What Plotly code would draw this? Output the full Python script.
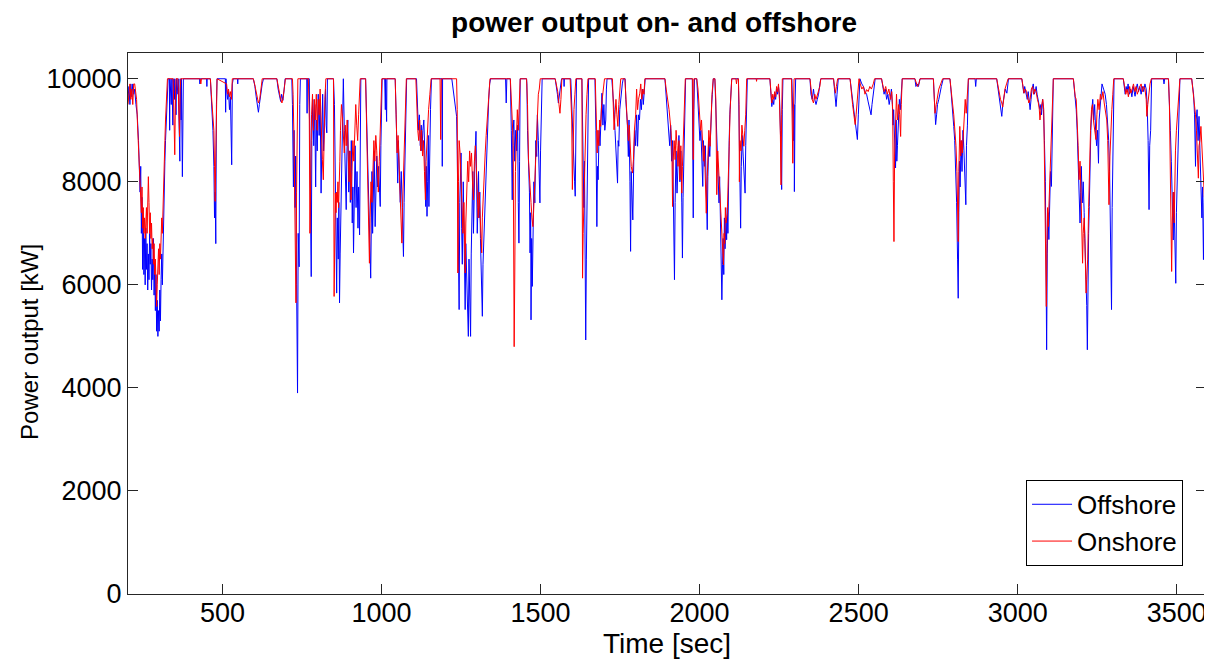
import plotly.graph_objects as go

# Time [sec] / power [kW] samples
offshore_samples = [
(203,9600),(206,9850),(209,9500),(212,9900),(215,9650),(218,9900),(221,9700),(224,9800),(228,9500),(232,9300),
(236,8800),(239,8000),(241,7800),(243,8300),(245,7000),(247,7700),(249,6300),(251,7300),(253,6200),(255,6900),
(257,6000),(259,7100),(261,6300),(263,6800),(265,5900),(267,6600),(269,6100),(271,7000),(273,6400),(275,6800),
(277,5900),(279,6500),(281,6100),(283,6900),(285,5800),(287,6400),(289,5500),(291,6200),(293,5100),(295,5700),
(297,5000),(299,5500),(301,5100),(303,5900),(305,5300),(307,6100),(309,6600),(311,6000),(313,6800),(315,7400),
(317,7900),(319,8400),(321,8800),(323,9100),(325,9500),(327,9900),(329,10000),(333,10000),(334,9000),(335,10000),
(339,9500),(341,10000),(344,9100),(345,10000),(349,9600),(350,10000),(354,9300),(356,10000),(360,9700),(361,10000),
(366,8400),(367,10000),(370,9200),(371,10000),(374,8100),(375,9600),(377,10000),(428,10000),(429,9900),(430,10000),
(450,10000),(451,9850),(452,10000),(462,10000),(466,9500),(470,9000),(473,8300),(475,7300),(477,7800),(479,6800),
(481,9500),(483,10000),(509,10000),(510,9350),(511,10000),(513,9800),(516,9600),(519,9750),(522,9400),(525,9650),
(529,8330),(531,9900),(534,10000),(547,10000),(548,9900),(549,10000),(597,10000),(602,9850),(606,9650),(610,9500),
(613,9350),(616,9500),(620,9700),(625,9900),(629,10000),(671,10000),(675,9800),(679,9650),(683,9560),(686,9700),
(690,9580),(694,9800),(697,10000),(718,10000),(720,9500),(723,7900),(725,9000),(728,7500),(730,8500),(733,6000),
(736,3900),(738,7000),(741,6350),(743,9500),(745,10000),(765,10000),(766,9330),(767,10000),(773,10000),(776,8500),
(779,6160),(781,8800),(784,9600),(787,8700),(790,9500),(793,7900),(795,9200),(798,8600),(801,9700),(804,8900),
(807,9600),(810,7780),(812,9100),(815,9700),(818,8600),(821,9300),(824,9800),(826,9100),(828,8950),(830,10000),
(849,10000),(852,9500),(855,8000),(857,6800),(859,5840),(861,7300),(864,6500),(866,7600),(868,5650),(870,6600),
(872,7260),(875,8600),(877,9400),(880,10000),(883,9000),(886,8300),(889,7460),(891,8500),(894,9200),(897,7800),
(899,8600),(902,7600),(905,8800),(908,7200),(910,7900),(912,6620),(914,7800),(917,8700),(920,7500),(923,8200),
(926,7100),(928,7900),(931,6970),(933,8700),(935,10000),(950,10000),(953,9300),(956,8700),(959,8000),(961,7300),
(963,6800),(966,6130),(968,7200),(970,8200),(972,7000),(974,7900),(977,8600),(980,7130),(982,7800),(985,8500),
(988,7900),(991,8300),(994,7800),(996,7520),(998,8700),(1000,9600),(1002,10000),(1010,10000),(1012,9400),(1013,10000),
(1016,9170),(1017,10000),(1043,10000),(1046,9300),(1049,8500),(1051,7975),(1053,8800),(1056,8300),(1059,7600),(1062,8200),
(1065,7300),(1067,6900),(1069,6550),(1071,7600),(1073,8300),(1075,9000),(1077,9700),(1079,10000),(1110,10000),(1113,9400),
(1116,9000),(1119,9300),(1122,8700),(1125,9100),(1127,8600),(1130,9000),(1133,9200),(1136,8600),(1139,7520),(1141,8300),
(1143,7330),(1145,8000),(1147,8900),(1149,7520),(1151,8600),(1154,9400),(1157,10000),(1190,10000),(1191,8300),(1192,10000),
(1221,10000),(1225,9800),(1229,9600),(1233,9400),(1236,9270),(1238,8600),(1241,7200),(1244,5520),(1246,7600),(1248,8000),
(1250,8560),(1252,7100),(1254,6400),(1257,8000),(1259,7000),(1261,6600),(1263,5520),(1265,6800),(1268,6200),(1270,5600),
(1273,5000),(1275,6500),(1277,5700),(1280,5000),(1282,6600),(1284,7600),(1287,8200),(1289,7000),(1291,7900),(1294,8500),
(1297,8980),(1299,8000),(1301,7000),(1303,7500),(1305,8200),(1307,7300),(1309,7800),(1311,6900),(1313,6500),(1315,6000),
(1317,5390),(1319,6400),(1322,6900),(1324,7500),(1326,7780),(1328,8300),(1331,8700),(1334,9200),(1337,9600),(1340,9900),
(1343,10000),(1390,10000),(1392,9530),(1394,10000),(1405,10000),(1408,9000),(1411,7650),(1413,8900),(1416,9200),(1419,8400),
(1422,9000),(1425,8600),(1428,9100),(1430,7600),(1432,6810),(1434,8400),(1436,10000),(1456,10000),(1457,9900),(1459,9000),
(1462,8400),(1465,7800),(1467,6620),(1469,7400),(1470,5320),(1472,6900),(1474,5970),(1476,7100),(1479,8000),(1482,7590),
(1485,8800),(1488,8490),(1490,9300),(1493,8800),(1496,8200),(1498,7590),(1500,8600),(1503,9200),(1505,10000),(1546,10000),
(1550,9850),(1553,9700),(1556,9530),(1559,9700),(1563,9850),(1566,10000),(1573,10000),(1574,9850),(1575,10000),(1595,10000),
(1598,9400),(1601,8800),(1604,8300),(1607,8000),(1609,7720),(1611,8800),(1613,10000),(1630,10000),(1633,8600),(1636,7500),
(1638,8400),(1640,5740),(1642,4930),(1644,6500),(1647,8100),(1649,9300),(1651,10000),(1671,10000),(1674,9000),(1677,7130),
(1679,8300),(1681,8040),(1684,9000),(1687,8700),(1690,9300),(1693,9720),(1696,9100),(1699,9500),(1702,9000),(1705,9200),
(1707,9800),(1709,10000),(1724,10000),(1728,9700),(1731,9400),(1734,9000),(1737,8700),(1740,8300),(1742,7975),(1744,8800),
(1746,8690),(1749,9400),(1753,9700),(1757,9900),(1760,10000),(1766,10000),(1768,9600),(1770,9400),(1773,9100),(1776,8490),
(1778,9200),(1781,8000),(1783,6650),(1785,8200),(1788,7600),(1790,7260),(1793,8400),(1796,9000),(1799,8700),(1802,9300),
(1805,8690),(1808,9300),(1811,9200),(1814,9600),(1817,9400),(1820,9800),(1823,9500),(1826,9900),(1829,10000),(1891,10000),
(1895,9700),(1899,9400),(1903,9100),(1906,8700),(1909,9100),(1912,8400),(1915,8800),(1918,7800),(1921,6100),(1923,7600),
(1926,8600),(1929,7780),(1932,8500),(1935,8900),(1938,8000),(1941,8600),(1944,7590),(1946,6520),(1948,7700),(1951,8700),
(1954,9700),(1956,10000),(1977,10000),(1979,8600),(1980,7300),(1982,9400),(1984,10000),(1991,10000),(1995,9600),(1998,9200),
(2001,8800),(2004,9000),(2007,8500),(2010,7910),(2012,8800),(2015,8300),(2018,8700),(2021,7900),(2024,7070),(2026,8100),
(2029,8800),(2032,8490),(2035,9200),(2038,9500),(2040,9700),(2043,10000),(2048,10000),(2051,9400),(2054,8800),(2057,8200),
(2059,7900),(2061,7590),(2063,8100),(2065,7200),(2067,6500),(2070,5710),(2072,6400),(2074,6900),(2076,6200),(2078,7300),
(2080,6700),(2083,7260),(2085,6875),(2087,7500),(2089,7000),(2091,8300),(2093,8800),(2095,9300),(2098,9700),(2101,10000),
(2122,10000),(2124,9300),(2126,8600),(2129,7100),(2131,8300),(2134,8900),(2137,8500),(2140,8000),(2143,7780),(2145,8700),
(2148,9300),(2150,10000),(2221,10000),(2224,9700),(2227,9460),(2230,9600),(2233,9500),(2236,9700),(2239,9600),(2242,9800),
(2245,9700),(2248,9850),(2251,9700),(2254,9000),(2256,8400),(2258,7850),(2260,9400),(2262,10000),(2290,10000),(2293,9200),
(2295,8800),(2297,9500),(2298,7810),(2300,9500),(2302,10000),(2347,10000),(2350,9700),(2354,9600),(2358,9800),(2362,9600),
(2366,9500),(2370,9600),(2374,9700),(2378,9900),(2381,10000),(2421,10000),(2425,9750),(2429,9460),(2432,9700),(2436,10000),
(2473,10000),(2477,9800),(2481,9600),(2485,9400),(2488,9200),(2491,9000),(2494,8900),(2496,8820),(2499,9300),(2502,9800),
(2504,10000),(2510,9900),(2515,9850),(2520,9750),(2525,9700),(2530,9550),(2535,9400),(2539,9300),(2542,9500),(2546,9700),
(2549,9850),(2552,10000),(2572,10000),(2576,9800),(2580,9700),(2584,9800),(2588,9600),(2592,9700),(2596,9500),(2600,9650),
(2603,9800),(2606,9500),(2608,9100),(2610,9400),(2613,8800),(2616,8270),(2618,9200),(2620,8400),(2622,8700),(2625,9300),
(2628,9600),(2631,9400),(2634,9800),(2637,10000),(2677,10000),(2680,9850),(2684,9900),(2688,9850),(2693,10000),(2735,10000),
(2738,9600),(2742,9110),(2745,9300),(2748,9500),(2752,9600),(2756,9750),(2760,9850),(2766,10000),(2787,10000),(2790,9800),
(2793,9600),(2796,9300),(2799,9075),(2802,8800),(2805,8200),(2808,7600),(2811,6500),(2813,5740),(2815,7400),(2817,8400),
(2819,7900),(2822,8800),(2825,8200),(2828,9000),(2831,8600),(2834,8000),(2837,7555),(2839,8700),(2842,9100),(2845,10000),
(2866,10000),(2868,9850),(2870,10000),(2934,10000),(2938,9800),(2942,9600),(2946,9450),(2950,9270),(2953,9500),(2957,9650),
(2961,9800),(2966,9720),(2971,10000),(3013,10000),(3016,9800),(3019,9720),(3022,9850),(3026,9700),(3030,9600),(3033,9750),
(3036,9500),(3039,9400),(3042,9600),(3045,9800),(3049,9900),(3052,9700),(3055,9750),(3058,9850),(3061,9700),(3064,9600),
(3067,9500),(3070,9400),(3073,9500),(3075,9300),(3078,9600),(3081,9400),(3084,8800),(3087,8000),(3089,6500),(3091,4740),
(3093,6600),(3095,7400),(3098,6880),(3100,7600),(3103,8200),(3106,7910),(3108,8800),(3110,9500),(3112,10000),(3175,10000),
(3178,9800),(3181,9600),(3184,9400),(3187,9000),(3190,8500),(3193,8000),(3196,7200),(3198,7800),(3200,8300),(3203,7590),
(3206,8000),(3209,7400),(3212,6800),(3215,6000),(3217,5600),(3219,4740),(3221,6300),(3223,7000),(3225,7520),(3227,8400),
(3230,9000),(3233,9400),(3236,9600),(3239,9200),(3242,9500),(3245,9000),(3248,8700),(3251,9000),(3254,8360),(3256,9200),
(3259,9400),(3262,9700),(3265,9900),(3270,9800),(3275,9700),(3279,9500),(3283,9200),(3286,8800),(3289,8200),(3292,7000),
(3295,5520),(3297,7500),(3299,8360),(3301,9500),(3303,10000),(3332,10000),(3335,9850),(3338,9700),(3341,9850),(3344,9750),
(3347,9900),(3351,9700),(3355,9800),(3359,9650),(3363,9850),(3366,9700),(3369,9660),(3372,9800),(3376,9900),(3380,9750),
(3384,9850),(3388,9700),(3392,9850),(3396,9750),(3400,9900),(3404,9800),(3407,9500),(3410,8800),(3413,7460),(3415,8700),
(3418,9000),(3421,10000),(3458,10000),(3460,9900),(3462,10000),(3474,10000),(3477,9600),(3480,9000),(3483,8400),(3486,7800),
(3489,6870),(3491,7800),(3494,7100),(3497,6030),(3499,7400),(3502,8000),(3505,8560),(3507,9200),(3510,10000),(3547,10000),
(3550,9800),(3553,9700),(3556,9300),(3559,8300),(3561,9200),(3564,9400),(3567,8800),(3570,9270),(3573,8600),(3576,8000),
(3579,7300),(3581,7900),(3584,6490),(3586,7600),(3589,8400),(3591,7800),(3594,7500),(3597,8000),(3600,7000),
]

onshore_samples = [
(203,9500),(206,9700),(209,9900),(212,9600),(215,9800),(218,9500),(221,9900),(224,9900),(227,9700),(230,9600),
(233,9100),(236,8600),(239,8230),(241,8000),(243,7800),(245,7400),(247,7900),(249,7100),(251,7500),(253,7000),
(255,7300),(257,6900),(259,7200),(261,7500),(263,7000),(265,7400),(267,8100),(269,7600),(271,7000),(273,7400),
(275,6900),(277,7200),(279,6700),(281,6900),(283,6400),(285,6800),(287,6200),(289,6500),(291,5800),(293,5580),
(295,6000),(297,6300),(299,6700),(301,6200),(303,6800),(305,6500),(307,7000),(309,7300),(311,7000),(313,7600),
(315,8000),(317,8400),(319,8800),(321,9200),(323,9500),(325,9800),(327,10000),(345,10000),(347,9300),(349,8800),
(350,8525),(352,9600),(354,10000),(360,10000),(363,9400),(365,8880),(367,9800),(369,10000),(430,10000),(432,9900),
(434,10000),(462,10000),(465,9700),(468,9400),(471,9330),(473,9000),(475,8300),(477,7620),(479,8500),(481,9800),
(483,10000),(513,9900),(516,9700),(519,9800),(522,9650),(525,9750),(528,9600),(531,10000),(597,10000),(601,9900),
(605,9750),(609,9600),(613,9530),(617,9600),(621,9800),(625,10000),(671,10000),(675,9850),(679,9700),(683,9600),
(687,9530),(691,9650),(695,9850),(698,10000),(720,10000),(722,9700),(725,8800),(727,7500),(729,6230),(731,5650),
(733,7800),(735,9500),(737,10000),(770,10000),(773,9200),(775,7000),(777,8400),(780,9300),(783,9700),(786,9000),
(789,9600),(792,9200),(795,9700),(798,9000),(801,9600),(804,9300),(807,9800),(810,9100),(814,8430),(817,8040),
(819,9000),(822,9600),(825,10000),(849,10000),(851,5775),(853,7500),(855,7780),(857,7400),(859,7800),(861,7600),
(863,8000),(865,7500),(867,7800),(869,8400),(871,9000),(874,9500),(877,9270),(880,8800),(883,8560),(886,9100),
(889,8700),(892,9200),(895,8400),(898,8000),(901,8600),(904,7650),(907,8200),(910,8800),(913,8400),(916,9000),
(919,9500),(922,9100),(925,8800),(928,9300),(931,9600),(933,10000),(950,10000),(952,9300),(954,8430),(957,7600),
(960,6800),(962,6420),(964,7300),(967,8000),(970,7600),(973,8300),(976,8800),(979,8400),(982,8900),(985,8600),
(988,8200),(990,7800),(993,8400),(996,9000),(999,9600),(1001,10000),(1043,10000),(1046,9400),(1049,8560),(1052,8900),
(1055,8300),(1058,7800),(1061,7300),(1064,6810),(1066,7500),(1069,8200),(1072,8900),(1075,9500),(1078,10000),(1108,10000),
(1111,9400),(1114,9000),(1117,8800),(1120,9200),(1123,8600),(1126,9000),(1129,8500),(1132,8800),(1135,8200),(1138,7650),
(1140,8400),(1142,8690),(1145,9000),(1148,9400),(1152,9700),(1156,10000),(1184,10000),(1186,8820),(1188,10000),(1236,10000),
(1238,9400),(1240,6230),(1242,8000),(1244,8800),(1247,8560),(1250,8000),(1253,7400),(1256,7000),(1259,7600),(1261,6900),
(1263,6230),(1265,7200),(1268,7800),(1271,8400),(1274,8000),(1277,8600),(1280,8300),(1283,8560),(1286,8000),(1289,7650),
(1292,8400),(1295,8700),(1298,8300),(1301,7800),(1304,7300),(1307,7800),(1310,7200),(1313,6900),(1315,6620),(1317,7300),
(1320,7800),(1323,8200),(1326,8560),(1329,8900),(1332,9200),(1335,9500),(1338,9800),(1341,10000),(1405,10000),(1408,9700),
(1411,9200),(1414,8700),(1417,4800),(1419,6230),(1421,8200),(1424,8820),(1427,9400),(1430,9000),(1433,9600),(1436,10000),
(1456,10000),(1459,9500),(1462,8430),(1465,8000),(1467,7975),(1470,7600),(1473,7300),(1476,7130),(1478,7400),(1481,7900),
(1484,8600),(1487,9075),(1490,9400),(1493,9700),(1496,9800),(1499,10000),(1546,10000),(1550,9900),(1554,9750),(1558,9500),
(1561,9330),(1564,9600),(1567,10000),(1593,10000),(1596,9600),(1598,9200),(1600,7850),(1602,8700),(1605,9400),(1608,9700),
(1611,10000),(1630,10000),(1632,6130),(1634,7000),(1637,7910),(1640,8700),(1643,9300),(1646,9700),(1649,10000),(1672,10000),
(1675,9300),(1678,8560),(1680,9000),(1683,8700),(1686,9200),(1689,9075),(1692,9500),(1695,9700),(1698,9900),(1701,10000),
(1726,10000),(1729,9500),(1731,9010),(1734,9300),(1737,9600),(1740,9300),(1743,9075),(1746,9500),(1749,9800),(1752,10000),
(1765,10000),(1768,9600),(1770,9330),(1773,9000),(1776,8800),(1779,9100),(1782,8600),(1785,8300),(1789,8170),(1792,8430),
(1795,9000),(1799,9300),(1802,9800),(1805,9400),(1808,9600),(1812,9720),(1815,9900),(1818,9600),(1822,9800),(1825,9700),
(1828,10000),(1891,10000),(1895,9800),(1900,9600),(1904,9400),(1907,9200),(1910,9000),(1913,8600),(1915,7520),(1917,8400),
(1920,8800),(1923,8430),(1926,9000),(1929,8700),(1932,8300),(1935,8800),(1938,8040),(1941,8700),(1944,7780),(1946,8300),
(1949,9000),(1952,9600),(1955,10000),(1978,10000),(1980,8430),(1982,10000),(1991,10000),(1995,9800),(1999,9300),(2003,9000),
(2006,9200),(2009,8800),(2012,8400),(2015,8700),(2018,8000),(2021,7390),(2023,7900),(2026,8600),(2029,9000),(2033,8690),
(2036,9300),(2039,9700),(2043,10000),(2048,10000),(2051,9600),(2054,7750),(2057,8600),(2060,8200),(2063,7800),(2066,7400),
(2069,7000),(2072,6700),(2075,6390),(2077,7000),(2079,6800),(2081,7500),(2083,7200),(2087,7390),(2089,8000),(2093,8690),
(2096,9400),(2099,9800),(2101,10000),(2114,10000),(2116,9900),(2118,10000),(2122,10000),(2124,9500),(2125,8000),(2127,8800),
(2130,8600),(2133,9100),(2136,8800),(2139,8690),(2142,9000),(2145,9300),(2148,10000),(2178,10000),(2179,9950),(2180,10000),
(2221,10000),(2224,9750),(2227,9530),(2230,9700),(2233,9600),(2236,9750),(2239,9650),(2242,9850),(2245,9750),(2248,9900),
(2251,9600),(2254,8900),(2256,7940),(2258,9300),(2260,10000),(2289,10000),(2291,9300),(2293,8360),(2295,9400),(2297,10000),
(2347,10000),(2350,9800),(2354,9600),(2358,9530),(2362,9700),(2366,9600),(2370,9700),(2374,9750),(2378,9850),(2381,10000),
(2421,10000),(2424,9850),(2427,9720),(2430,9850),(2434,10000),(2473,10000),(2477,9700),(2481,9500),(2485,9300),(2489,9110),
(2492,9300),(2495,9600),(2498,9800),(2501,10000),(2505,9900),(2510,9800),(2515,9850),(2520,9700),(2525,9790),(2530,9750),
(2535,9850),(2540,9800),(2546,9900),(2550,10000),(2572,10000),(2576,9850),(2580,9750),(2585,9850),(2590,9700),(2595,9800),
(2600,9600),(2604,9750),(2607,9400),(2609,8000),(2611,6840),(2613,8500),(2616,9400),(2619,9700),(2622,9200),(2626,9500),
(2629,9300),(2632,8880),(2634,9500),(2637,10000),(2677,10000),(2681,9900),(2685,9850),(2689,9900),(2693,10000),(2735,10000),
(2738,9700),(2740,9330),(2744,9500),(2748,9650),(2752,9800),(2758,9900),(2764,10000),(2787,10000),(2791,9700),(2795,9530),
(2799,9300),(2803,9000),(2806,8700),(2809,8200),(2811,7500),(2813,6840),(2815,8200),(2818,9075),(2821,8500),(2824,8800),
(2826,8560),(2829,9000),(2832,9300),(2835,9600),(2838,9330),(2841,9700),(2845,10000),(2934,10000),(2938,9850),(2942,9700),
(2946,9600),(2950,9530),(2953,9450),(2956,9600),(2960,9800),(2965,9900),(2970,10000),(3013,10000),(3016,9850),(3020,9720),
(3024,9800),(3028,9750),(3031,9650),(3035,9530),(3039,9600),(3043,9800),(3047,9850),(3050,9700),(3054,9800),(3058,9750),
(3062,9600),(3065,9530),(3068,9400),(3070,9200),(3073,9400),(3076,9530),(3079,9600),(3082,9400),(3084,8500),(3086,7520),
(3088,6500),(3090,5580),(3092,6800),(3094,7500),(3096,7130),(3099,7700),(3102,8200),(3105,8560),(3108,9300),(3110,9800),
(3112,10000),(3175,10000),(3178,9800),(3181,9650),(3184,9600),(3187,9200),(3190,8700),(3193,8040),(3196,8400),(3199,7800),
(3202,7200),(3204,6420),(3206,7000),(3209,7300),(3211,6900),(3213,6300),(3215,5840),(3217,6100),(3220,6500),(3223,7500),
(3226,8400),(3229,9000),(3232,9400),(3235,9500),(3238,9200),(3241,9000),(3244,8900),(3246,8820),(3249,9300),(3252,9600),
(3256,9400),(3260,9700),(3264,9600),(3268,9750),(3272,9530),(3276,9400),(3280,9200),(3283,8800),(3286,8000),(3287,7555),
(3290,8500),(3293,9075),(3296,9400),(3299,9700),(3302,10000),(3332,10000),(3336,9850),(3340,9700),(3344,9800),(3348,9650),
(3352,9850),(3356,9720),(3360,9800),(3364,9900),(3368,9750),(3372,9850),(3376,9700),(3380,9800),(3384,9850),(3388,9900),
(3392,9750),(3396,9850),(3400,9800),(3404,9600),(3406,9270),(3409,9500),(3412,9750),(3416,9900),(3420,10000),(3474,10000),
(3477,9500),(3479,8100),(3481,7500),(3484,6260),(3486,7200),(3489,7800),(3492,7200),(3494,8100),(3496,8600),(3499,9000),
(3502,9330),(3505,9600),(3508,9800),(3510,10000),(3547,10000),(3550,9850),(3553,9720),(3556,9500),(3559,9300),(3562,9000),
(3565,8600),(3568,8070),(3570,8700),(3573,8800),(3576,9075),(3579,8600),(3582,8300),(3584,8000),(3587,7700),(3590,8170),
(3593,7300),(3596,7000),(3599,6750),(3600,6800),
]

offshore_time = [s[0] for s in offshore_samples]
offshore_kw = [s[1] for s in offshore_samples]
onshore_time = [s[0] for s in onshore_samples]
onshore_kw = [s[1] for s in onshore_samples]

x_ticks = [500, 1000, 1500, 2000, 2500, 3000, 3500]
y_ticks = [0, 2000, 4000, 6000, 8000, 10000]

FONT = "Liberation Sans, Arial, sans-serif"

# the page body adds an 8px margin, so the figure is 8px smaller than the window
W, H = 1204, 651

fig = go.Figure()
fig.add_trace(go.Scatter(x=offshore_time, y=offshore_kw, mode="lines", name="Offshore",
                         line=dict(color="#0000FF", width=1)))
fig.add_trace(go.Scatter(x=onshore_time, y=onshore_kw, mode="lines", name="Onshore",
                         line=dict(color="#FF0000", width=1)))

axis_common = dict(showgrid=False, zeroline=False, showline=True, linecolor="#262626",
                   linewidth=1, mirror="ticks", ticks="inside", ticklen=10, tickcolor="#262626",
                   automargin=False,
                   tickfont=dict(family=FONT, size=27, color="#000000"))

fig.update_layout(
    width=W, height=H,
    paper_bgcolor="white", plot_bgcolor="white",
    margin=dict(l=120, r=6, t=45, b=65, autoexpand=False),
    title=dict(text="<b>power output on- and offshore</b>", x=0.488, xref="paper", xanchor="center",
               y=1 - 14 / H, yref="container", yanchor="middle",
               font=dict(family=FONT, size=28, color="#000000")),
    xaxis=dict(range=[203, 3592], tickvals=x_ticks, ticktext=[str(v) for v in x_ticks],
               ticklabelstandoff=-5,
               title=dict(text="Time [sec]", standoff=0,
               font=dict(family=FONT, size=28, color="#000000")), **axis_common),
    yaxis=dict(range=[0, 10500], tickvals=y_ticks, ticktext=[str(v) for v in y_ticks],
               **axis_common),
    annotations=[dict(text="Power output [kW]", textangle=-90, showarrow=False,
                      xref="paper", yref="paper", x=-0.0909, y=0.466,
                      xanchor="center", yanchor="middle",
                      font=dict(family=FONT, size=24, color="#000000"))],
    legend=dict(x=0.9787, y=0.052, xanchor="right", yanchor="bottom", bgcolor="white",
                bordercolor="#000000", borderwidth=1, itemwidth=40,
                font=dict(family=FONT, size=26, color="#000000"), tracegroupgap=0),
    showlegend=True,
)

fig.write_html("out.html")
